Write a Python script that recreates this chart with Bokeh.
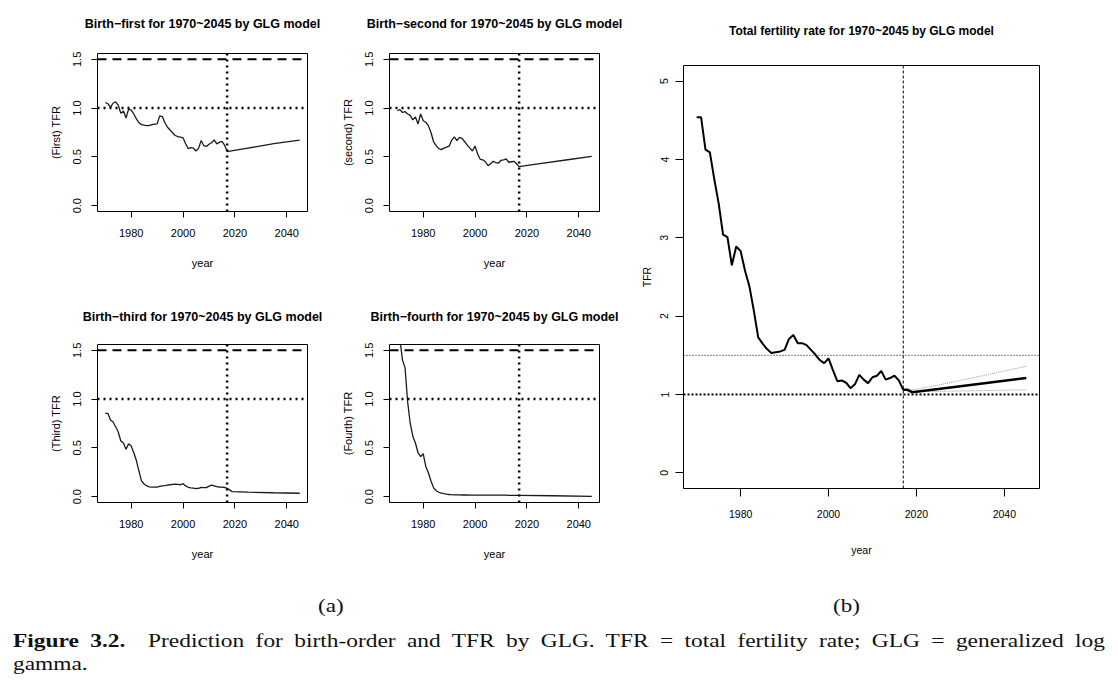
from bokeh.plotting import figure
from bokeh.models import FixedTicker, Span, Div, Range1d, NumeralTickFormatter, Title
from bokeh.layouts import row, column
from bokeh.embed import file_html
from bokeh.resources import INLINE

# ---------------- data ----------------
years_obs = list(range(1970, 2018))

first_obs = [1.058, 1.045, 1.007, 1.05, 1.065, 1.03, 0.946, 0.97, 0.899, 0.99,
             0.98, 0.94, 0.889, 0.85, 0.831, 0.825, 0.82, 0.822, 0.83, 0.836,
             0.838, 0.92, 0.913, 0.85, 0.804, 0.775, 0.745, 0.719, 0.708, 0.702,
             0.696, 0.634, 0.584, 0.594, 0.59, 0.56, 0.59, 0.668, 0.615, 0.607,
             0.63, 0.645, 0.675, 0.634, 0.648, 0.658, 0.62, 0.56]
second_obs = [0.973, 0.985, 0.955, 0.965, 0.94, 0.925, 0.88, 0.91, 0.838, 0.94,
              0.87, 0.855, 0.82, 0.75, 0.655, 0.615, 0.585, 0.575, 0.59, 0.60,
              0.61, 0.672, 0.705, 0.668, 0.70, 0.69, 0.655, 0.62, 0.59, 0.56,
              0.61, 0.53, 0.475, 0.47, 0.45, 0.41, 0.43, 0.455, 0.44, 0.435,
              0.465, 0.47, 0.48, 0.445, 0.45, 0.455, 0.43, 0.40]
third_obs = [0.854, 0.854, 0.786, 0.765, 0.717, 0.663, 0.571, 0.55, 0.485, 0.543,
             0.519, 0.45, 0.37, 0.26, 0.16, 0.13, 0.11, 0.10, 0.098, 0.097,
             0.098, 0.105, 0.11, 0.113, 0.118, 0.122, 0.125, 0.128, 0.125, 0.122,
             0.133, 0.11, 0.096, 0.09, 0.087, 0.083, 0.086, 0.095, 0.092, 0.092,
             0.108, 0.117, 0.11, 0.102, 0.099, 0.097, 0.094, 0.085]
fourth_obs = [1.66, 1.62, 1.40, 1.32, 0.97, 0.75, 0.62, 0.55, 0.45, 0.41,
              0.44, 0.31, 0.245, 0.16, 0.09, 0.06, 0.045, 0.036, 0.03, 0.025,
              0.022, 0.02, 0.019, 0.018, 0.018, 0.017, 0.017, 0.017, 0.016, 0.016,
              0.016, 0.015, 0.015, 0.015, 0.015, 0.015, 0.015, 0.015, 0.015, 0.015,
              0.015, 0.015, 0.015, 0.014, 0.014, 0.014, 0.014, 0.014]
tfr_obs = [4.54, 4.54, 4.125, 4.09, 3.75, 3.44, 3.04, 3.01, 2.65, 2.89,
           2.83, 2.58, 2.38, 2.07, 1.73, 1.65, 1.58, 1.53, 1.54, 1.55,
           1.57, 1.71, 1.76, 1.655, 1.655, 1.63, 1.57, 1.51, 1.44, 1.40,
           1.46, 1.31, 1.17, 1.18, 1.15, 1.08, 1.13, 1.25, 1.19, 1.145,
           1.22, 1.24, 1.30, 1.19, 1.21, 1.24, 1.18, 1.06]

first_fc_years = [2017, 2025, 2035, 2045]
first_fc = [0.555, 0.59, 0.635, 0.672]
second_fc_years = [2017, 2025, 2035, 2045]
second_fc = [0.40, 0.43, 0.468, 0.505]
third_fc_years = [2017, 2019, 2025, 2035, 2045]
third_fc = [0.085, 0.052, 0.046, 0.04, 0.035]
fourth_fc_years = [2017, 2030, 2045]
fourth_fc = [0.014, 0.009, 0.003]

tfr_fc_years = [2017, 2018, 2019, 2025, 2030, 2035, 2040, 2045]
tfr_fc = [1.06, 1.06, 1.03, 1.07, 1.105, 1.14, 1.175, 1.21]
tfr_up_years = [2018, 2025, 2035, 2045]
tfr_up = [1.05, 1.12, 1.24, 1.36]
tfr_lo_years = [2018, 2025, 2035, 2045]
tfr_lo = [1.035, 1.04, 1.05, 1.06]

x_ticks = [1980, 2000, 2020, 2040]
small_y_ticks = [0.0, 0.5, 1.0, 1.5]
big_y_ticks = [0, 1, 2, 3, 4, 5]
forecast_start = 2017

titles = ["Birth\u2212first for 1970~2045 by GLG model",
          "Birth\u2212second for 1970~2045 by GLG model",
          "Birth\u2212third for 1970~2045 by GLG model",
          "Birth\u2212fourth for 1970~2045 by GLG model"]
ylabels = ["(First) TFR", "(second) TFR", "(Third) TFR", "(Fourth) TFR"]

SANS = "Liberation Sans"


def style_axes(p, font, tick_size, lab_size, tick_out, xstand, ystand, xlab_stand, ylab_stand):
    p.grid.visible = False
    p.outline_line_color = "black"
    p.outline_line_width = 1
    p.outline_line_alpha = 1
    p.background_fill_color = "white"
    p.border_fill_color = "white"
    for ax in (p.xaxis[0], p.yaxis[0]):
        ax.axis_line_color = None
        ax.major_tick_in = 0
        ax.major_tick_out = tick_out
        ax.major_tick_line_color = "black"
        ax.minor_tick_line_color = None
        ax.major_label_text_font = font
        ax.major_label_text_font_size = tick_size
        ax.major_label_text_color = "black"
        ax.axis_label_text_font = font
        ax.axis_label_text_font_size = lab_size
        ax.axis_label_text_font_style = "normal"
        ax.axis_label_text_color = "black"
    p.xaxis[0].major_label_standoff = xstand
    p.yaxis[0].major_label_standoff = ystand
    p.xaxis[0].axis_label_standoff = xlab_stand
    p.yaxis[0].axis_label_standoff = ylab_stand
    p.yaxis[0].major_label_orientation = "vertical"
    p.xaxis[0].ticker = FixedTicker(ticks=x_ticks)


def add_title(p, text, size, spacer):
    # an empty spacer title next to the frame lifts the real title upward
    p.add_layout(Title(text=" ", text_font_size="1px", standoff=spacer), "above")
    p.add_layout(Title(text=text, text_font=SANS, text_font_size=size, text_font_style="bold",
                       align="center", vertical_align="top", text_color="black", standoff=0), "above")


def small(i, obs, fyears, fvals, w, h, bl, br, bt, bb, spacer):
    p = figure(width=w, height=h, x_range=Range1d(1967, 2048), y_range=Range1d(-0.06, 1.56),
               output_backend="svg", toolbar_location=None,
               min_border_left=bl, min_border_right=br, min_border_top=bt, min_border_bottom=bb,
               x_axis_label="year", y_axis_label=ylabels[i])
    style_axes(p, SANS, "11px", "11px", 6, 11, 10, 17, 9)
    p.yaxis[0].ticker = FixedTicker(ticks=small_y_ticks)
    p.yaxis[0].formatter = NumeralTickFormatter(format="0.0")
    add_title(p, titles[i], "12.5px", spacer)
    p.add_layout(Span(location=1.5, dimension="width", line_color="black", line_width=2, line_dash="9 6"))
    p.add_layout(Span(location=1.0, dimension="width", line_color="black", line_width=2.5, line_dash="2 4"))
    p.add_layout(Span(location=forecast_start, dimension="height", line_color="black", line_width=2.5, line_dash="2 4"))
    p.line(years_obs, obs, line_color="#1a1a1a", line_width=1.3)
    p.line(fyears, fvals, line_color="#1a1a1a", line_width=1.3)
    return p


p1 = small(0, first_obs, first_fc_years, first_fc, 327, 290, 97, 20, 53, 79, 18)
p2 = small(1, second_obs, second_fc_years, second_fc, 305, 290, 62, 33, 53, 79, 18)
p3 = small(2, third_obs, third_fc_years, third_fc, 327, 290, 97, 20, 54, 78, 16)
p4 = small(3, fourth_obs, fourth_fc_years, fourth_fc, 305, 290, 62, 33, 54, 78, 16)

# big TFR plot
p5 = figure(width=478, height=580, x_range=Range1d(1967, 2048), y_range=Range1d(-0.2, 5.2),
            output_backend="svg", toolbar_location=None,
            min_border_left=51, min_border_right=71, min_border_top=65, min_border_bottom=92,
            x_axis_label="year", y_axis_label="TFR")
style_axes(p5, SANS, "10.5px", "10.5px", 8, 13, 7, 23, 5)
p5.yaxis[0].ticker = FixedTicker(ticks=big_y_ticks)
add_title(p5, "Total fertility rate for 1970~2045 by GLG model", "12px", 23)
p5.add_layout(Span(location=1.5, dimension="width", line_color="black", line_width=1, line_dash="1 2"))
p5.add_layout(Span(location=1.0, dimension="width", line_color="black", line_width=2, line_dash="2 2"))
p5.add_layout(Span(location=forecast_start, dimension="height", line_color="black", line_width=1, line_dash="3 2"))
p5.line(tfr_up_years, tfr_up, line_color="#9a9a9a", line_width=1, line_dash="1 1")
p5.line(tfr_lo_years, tfr_lo, line_color="#9a9a9a", line_width=1, line_dash="1 1")
p5.line(years_obs, tfr_obs, line_color="black", line_width=2)
p5.line(tfr_fc_years, tfr_fc, line_color="black", line_width=2.5)

caption_html = """
<div style="position:relative;width:1118px;height:100px;font-family:'Liberation Serif','DejaVu Serif',serif;font-size:18px;color:#111;line-height:23px;">
  <div style="position:absolute;left:313px;top:10px;transform:scaleX(1.28);transform-origin:left top;">(a)</div>
  <div style="position:absolute;left:828px;top:10px;transform:scaleX(1.28);transform-origin:left top;">(b)</div>
  <div style="position:absolute;left:8px;top:45px;width:840px;white-space:nowrap;text-align:justify;text-align-last:justify;transform:scaleX(1.3);transform-origin:left top;"><b>Figure 3.2.</b>&nbsp; Prediction for birth-order and TFR by GLG. TFR = total fertility rate; GLG = generalized log</div>
  <div style="position:absolute;left:8px;top:68px;transform:scaleX(1.3);transform-origin:left top;">gamma.</div>
</div>
"""
cap = Div(text=caption_html, width=1118, height=100)

left = column(row(p1, p2), row(p3, p4))
top = row(left, p5)
layout = column(top, cap)

open("out.html", "w").write(file_html(layout, INLINE))
